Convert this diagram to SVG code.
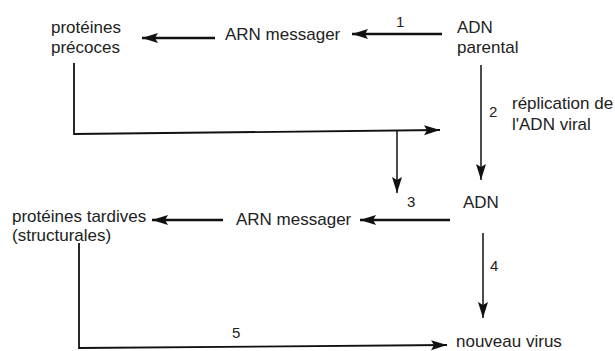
<svg xmlns="http://www.w3.org/2000/svg" width="615" height="351" viewBox="0 0 615 351">
<defs>
<style>
text{font-family:"Liberation Sans",Arial,sans-serif;font-size:17px;fill:#222}
text.n{font-size:15px}
.c{fill:none;stroke:#111;stroke-width:1.8}
.t{stroke-width:2.6}
.v{stroke-width:1.5}
</style>
<marker id="ah" markerUnits="userSpaceOnUse" markerWidth="18" markerHeight="12" refX="16" refY="5" orient="auto">
<path d="M0,0 L16,5 L0,10 L3,5 z" fill="#111"/>
</marker>
</defs>
<rect width="615" height="351" fill="#fff"/>
<g id="n-prot-precoces"><text x="51" y="33">protéines</text><text x="51" y="53">précoces</text></g>
<g id="n-arn1"><text x="225" y="40">ARN messager</text></g>
<g id="n-adn-parental"><text x="457" y="33">ADN</text><text x="457" y="53">parental</text></g>
<g id="n-replication"><text x="512" y="109" font-size="16.6">réplication de</text><text x="512" y="130">l'ADN viral</text></g>
<g id="n-adn"><text x="463" y="208">ADN</text></g>
<g id="n-arn2"><text x="236" y="225">ARN messager</text></g>
<g id="n-prot-tardives"><text x="12" y="222">protéines tardives</text><text x="12" y="241">(structurales)</text></g>
<g id="n-virus"><text x="456" y="347">nouveau virus</text></g>
<g id="connectors">
<path class="c t" d="M442,34 L352,34" marker-end="url(#ah)"/>
<path class="c t" d="M215,38 L142,38" marker-end="url(#ah)"/>
<path class="c v" d="M481,65 L481,180" marker-end="url(#ah)"/>
<path class="c" d="M74,63 L74,134 L440,130" marker-end="url(#ah)"/>
<path class="c v" d="M397,131 L397,193" marker-end="url(#ah)"/>
<path class="c t" d="M450,220 L360,220" marker-end="url(#ah)"/>
<path class="c t" d="M223,220 L152,220" marker-end="url(#ah)"/>
<path class="c v" d="M483,233 L483,318" marker-end="url(#ah)"/>
<path class="c" d="M79,243 L79,348 L447,345" marker-end="url(#ah)"/>
<text class="n" x="396" y="27">1</text>
<text class="n" x="489" y="117">2</text>
<text class="n" x="407" y="207">3</text>
<text class="n" x="490" y="271">4</text>
<text class="n" x="232" y="338">5</text>
</g>
</svg>
